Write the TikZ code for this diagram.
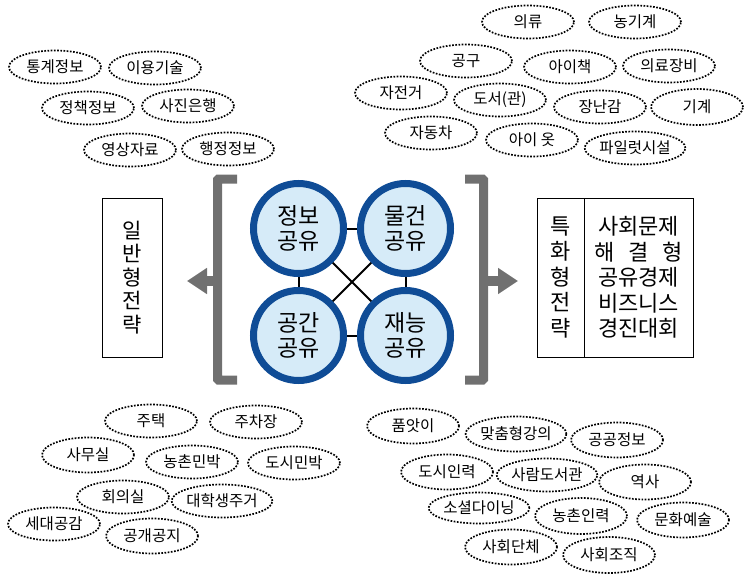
\documentclass[tikz,border=0pt]{standalone}
\usepackage{fontspec}
\setmainfont{Noto Sans CJK KR}
\usetikzlibrary{shapes,arrows.meta,positioning}
\definecolor{ringblue}{RGB}{15,76,150}
\definecolor{paleblue}{RGB}{214,235,248}
\definecolor{bargray}{RGB}{112,112,112}
\tikzstyle{share} = [circle, draw=ringblue, fill=paleblue, line width=7pt,
minimum size=90pt, inner sep=0pt, align=center, font=\fontsize{23}{25.5}\selectfont]
\tikzstyle{item} = [ellipse, draw, dash pattern=on 1.7pt off 1.5pt, line width=1.7pt,
minimum width=92pt, minimum height=33pt, inner sep=0pt, font=\fontsize{15.5}{17}\selectfont]
\tikzstyle{link} = [draw, line width=2pt]
\tikzstyle{bracket} = [draw=bargray, line width=9pt, rounded corners=1pt]
\tikzstyle{fat} = [draw=bargray, line width=10pt, -{Triangle[width=25pt,length=20pt]}]
\tikzstyle{strategy} = [rectangle, draw, line width=0.8pt, minimum height=159pt,
inner sep=0pt, align=center, font=\fontsize{22}{25.5}\selectfont]

\begin{document}
\begin{tikzpicture}[x=1pt, y=-1pt, node distance=107pt]
	\useasboundingbox (0,0) rectangle (744,575);
	% Place nodes
	\node [share] (info) at (298.5,228.5) {정보\\공유};
	\node [share, right of=info] (goods) {물건\\공유};
	\node [share, below of=info] (space) {공간\\공유};
	\node [share, right of=space] (talent) {재능\\공유};

	\path [link] (info) -- (goods);
	\path [link] (space) -- (talent);
	\path [link] (info) -- (space);
	\path [link] (goods) -- (talent);
	\path [link] (info) -- (talent);
	\path [link] (goods) -- (space);

	% brackets and arrows
	\path [bracket] (237,179) -- (217.5,179) -- (217.5,380) -- (237,380);
	\path [bracket] (465,179) -- (483.5,179) -- (483.5,380) -- (465,380);
	\coordinate (lbr) at (217.5,281);
	\coordinate (rbr) at (483.5,281);
	\coordinate (ltip) at (187,281);
	\coordinate (rtip) at (518,281);
	\path [fat] (lbr) -- (ltip);
	\path [fat] (rbr) -- (rtip);

	% strategy boxes
	\node [strategy, minimum width=60pt, font=\fontsize{21}{23.5}\selectfont] (general) at (132,277.5) {일\\반\\형\\전\\략};
	\node [strategy, minimum width=47pt] (special) at (560.5,277.5) {특\\화\\형\\전\\략};
	\node [strategy, minimum width=109pt] (contest) at (638.5,277.5)
		{사회문제\\\hbox to 4em{해\hfill 결\hfill 형}\\공유경제\\비즈니스\\경진대회};

	% information
	\node [item] (stat) at (55,67) {통계정보};
	\node [item] (tech) at (155,68) {이용기술};
	\node [item] (policy) at (88,108) {정책정보};
	\node [item] (photo) at (188,106) {사진은행};
	\node [item] (video) at (130,150) {영상자료};
	\node [item] (admin) at (228,149) {행정정보};

	% goods
	\node [item] (clothes) at (528,22) {의류};
	\node [item] (farm) at (635,22) {농기계};
	\node [item] (tool) at (466,61) {공구};
	\node [item] (kidbook) at (570,67) {아이책};
	\node [item] (medical) at (669,66) {의료장비};
	\node [item] (bike) at (401,93) {자전거};
	\node [item] (library) at (500,100) {도서(관)};
	\node [item] (toy) at (600,107) {장난감};
	\node [item, minimum height=36pt] (machine) at (697,107) {기계};
	\node [item] (car) at (431,133) {자동차};
	\node [item] (kidwear) at (532,140) {아이 옷};
	\node [item] (pilot) at (635,148) {파일럿시설};

	% space
	\node [item] (house) at (151,421) {주택};
	\node [item] (parking) at (256,422) {주차장};
	\node [item, minimum height=35pt] (office) at (88,455) {사무실};
	\node [item] (ruralstay) at (192,462) {농촌민박};
	\node [item] (citystay) at (294,463) {도시민박};
	\node [item] (meeting) at (123,497) {회의실};
	\node [item] (dorm) at (222,501) {대학생주거};
	\node [item] (genshare) at (54,524) {세대공감};
	\node [item, minimum height=35pt] (openspace) at (152,536) {공개공지};

	% talent
	\node [item, minimum height=35pt] (pumasi) at (413,426) {품앗이};
	\node [item, minimum height=35pt] (lecture) at (516,434) {맞춤형강의};
	\node [item, minimum height=35pt] (public) at (617,440) {공공정보};
	\node [item, minimum height=35pt] (citywork) at (447,472) {도시인력};
	\node [item] (humanlib) at (547,475) {사람도서관};
	\node [item, minimum height=35pt] (history) at (645,482) {역사};
	\node [item, minimum height=31pt] (dining) at (479,508) {소셜다이닝};
	\node [item, minimum height=36pt] (ruralwork) at (581,516) {농촌인력};
	\node [item, minimum height=35pt] (culture) at (683,520) {문화예술};
	\node [item, minimum height=35pt] (society) at (511,547) {사회단체};
	\node [item, minimum height=36pt] (org) at (609,555) {사회조직};
\end{tikzpicture}
\end{document}
